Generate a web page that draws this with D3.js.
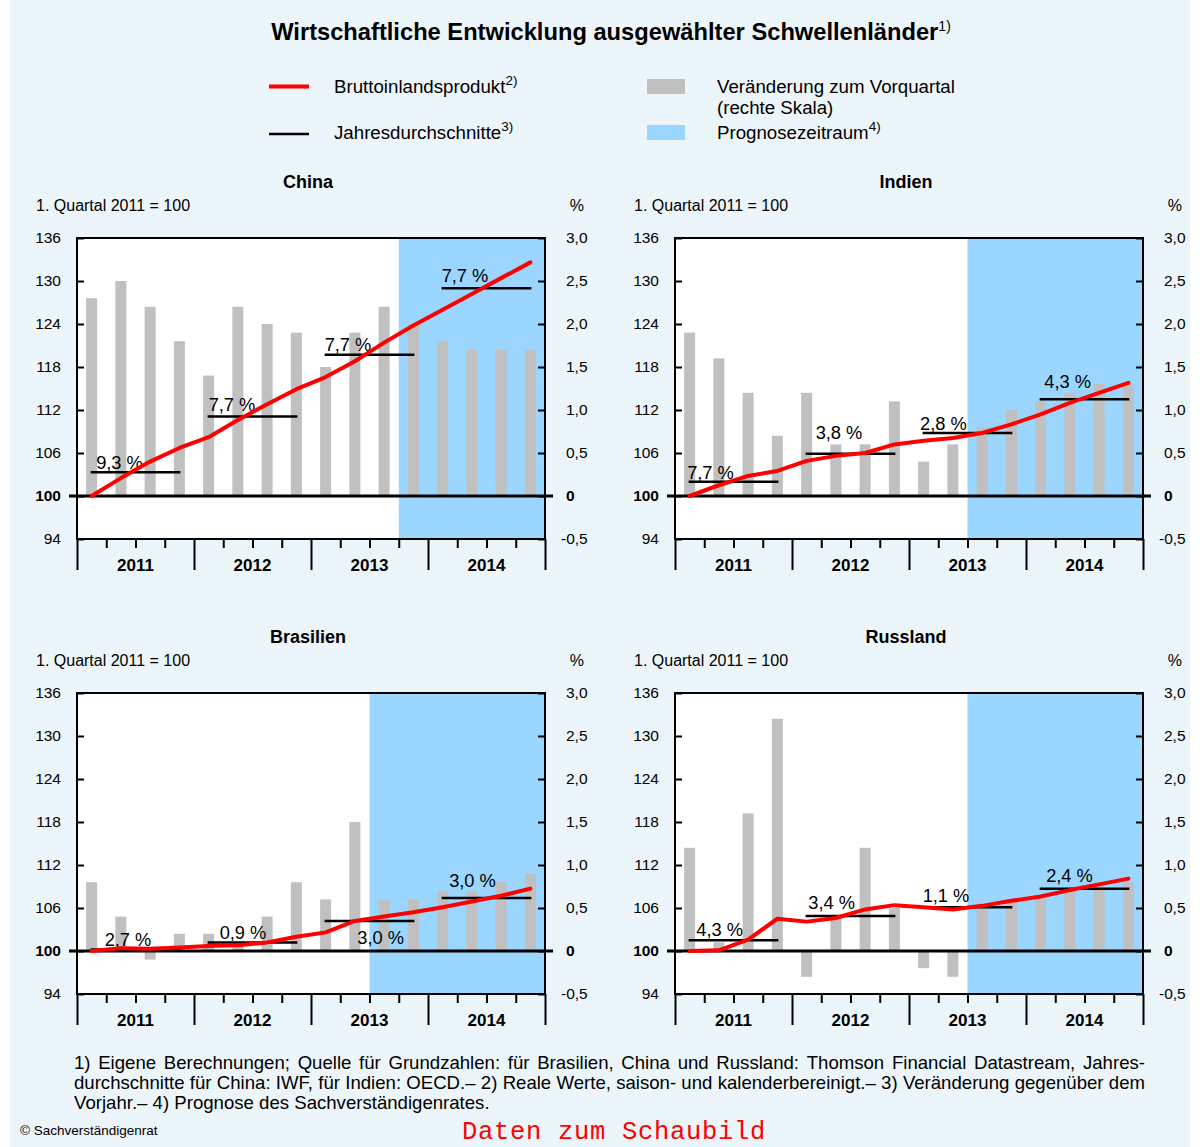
<!DOCTYPE html>
<html><head><meta charset="utf-8">
<script src="https://cdn.jsdelivr.net/npm/d3@7"></script>
<style>
body{margin:0;background:#fff}
svg{display:block}
text{font-family:"Liberation Sans",Arial,Helvetica,sans-serif;fill:#000}
</style>
</head><body>
<svg id="chart" width="1200" height="1147"></svg>
<script>
// ---------- data ----------
const years = ["2011","2012","2013","2014"];
const quarters = ["2011-1","2011-2","2011-3","2011-4","2012-1","2012-2","2012-3","2012-4",
                  "2013-1","2013-2","2013-3","2013-4","2014-1","2014-2","2014-3","2014-4"];
const indexTicks = [94,100,106,112,118,124,130,136];
const changeTicks = [-0.5,0,0.5,1.0,1.5,2.0,2.5,3.0];
const changeTickLabels = ["-0,5","0","0,5","1,0","1,5","2,0","2,5","3,0"];

const chinaIndex  = [100,102.5,104.8,106.7,108.2,110.6,112.8,114.9,116.6,118.8,121.4,123.8,126.0,128.2,130.4,132.6];
const chinaChange = [2.3,2.5,2.2,1.8,1.4,2.2,2.0,1.9,1.5,1.9,2.2,2.0,1.8,1.7,1.7,1.7];
const chinaAvg    = [103.3,111.1,119.7,129.0];
const chinaAvgLabels = ["9,3 %","7,7 %","7,7 %","7,7 %"];
const chinaForecastFrom = "2013-4";

const indienIndex  = [100,101.5,102.8,103.5,104.9,105.6,106.0,107.2,107.7,108.1,108.8,110.0,111.4,113.0,114.4,115.8];
const indienChange = [1.9,1.6,1.2,0.7,1.2,0.6,0.6,1.1,0.4,0.6,0.8,1.0,1.1,1.2,1.3,1.3];
const indienAvg    = [102.0,105.9,108.8,113.5];
const indienAvgLabels = ["7,7 %","3,8 %","2,8 %","4,3 %"];
const indienForecastFrom = "2013-3";

const brasilienIndex  = [100,100.4,100.3,100.5,100.7,100.8,101.2,102.0,102.6,104.2,104.8,105.4,106.1,106.9,107.7,108.7];
const brasilienChange = [0.8,0.4,-0.1,0.2,0.2,0.1,0.4,0.8,0.6,1.5,0.6,0.6,0.7,0.7,0.8,0.9];
const brasilienAvg    = [100.2,101.2,104.2,107.4];
const brasilienAvgLabels = ["2,7 %","0,9 %","3,0 %","3,0 %"];
const brasilienForecastFrom = "2013-3";

const russlandIndex  = [100,100.1,101.6,104.5,104.1,104.6,105.8,106.4,106.1,105.8,106.3,107.0,107.6,108.5,109.3,110.1];
const russlandChange = [1.2,0.1,1.6,2.7,-0.3,0.4,1.2,0.5,-0.2,-0.3,0.5,0.6,0.6,0.7,0.8,0.8];
const russlandAvg    = [101.5,104.9,106.1,108.7];
const russlandAvgLabels = ["4,3 %","3,4 %","1,1 %","2,4 %"];
const russlandForecastFrom = "2013-3";

// ---------- layout (positions only) ----------
const PW = 468, PH = 301;
const COLORS = {bg:"#ECF5F9", bar:"#C0C0C0", forecast:"#9AD6FF", red:"#FF0000"};
const panels = [
  {name:"China",     left:77,  top:238, index:chinaIndex, change:chinaChange, avg:chinaAvg, labels:chinaAvgLabels, fc:chinaForecastFrom,
   lab:[[5.5,-3.3],[1,-5.3],[0,-4.3],[0,-6.3]]},
  {name:"Indien",    left:675, top:238, index:indienIndex, change:indienChange, avg:indienAvg, labels:indienAvgLabels, fc:indienForecastFrom,
   lab:[[-1.5,-3],[10,-14.3],[-2.6,-3],[4.6,-11.3]]},
  {name:"Brasilien", left:77,  top:693, index:brasilienIndex, change:brasilienChange, avg:brasilienAvg, labels:brasilienAvgLabels, fc:brasilienForecastFrom,
   lab:[[14,-3.3],[12,-3.7],[32.6,22.6],[7.5,-10.7]]},
  {name:"Russland",  left:675, top:693, index:russlandIndex, change:russlandChange, avg:russlandAvg, labels:russlandAvgLabels, fc:russlandForecastFrom,
   lab:[[7.6,-4],[2.7,-7],[0,-5.3],[6.5,-6.3]]}
];

const svg = d3.select("#chart");
svg.append("rect").attr("x",10).attr("y",0).attr("width",1180).attr("height",1147).attr("fill",COLORS.bg);

// ---------- title ----------
const title = svg.append("text").attr("x",611).attr("y",40).attr("text-anchor","middle")
  .style("font-size","23.7px").style("font-weight","bold");
title.append("tspan").text("Wirtschaftliche Entwicklung ausgewählter Schwellenländer");
title.append("tspan").attr("dy",-9).style("font-size","14px").style("font-weight","normal").text("1)");

// ---------- legend ----------
const lg = svg.append("g");
lg.append("line").attr("x1",269).attr("x2",309).attr("y1",86.5).attr("y2",86.5).attr("stroke",COLORS.red).attr("stroke-width",4);
lg.append("line").attr("x1",269).attr("x2",309).attr("y1",134).attr("y2",134).attr("stroke","#000").attr("stroke-width",2.5);
lg.append("rect").attr("x",647).attr("y",79).attr("width",38).attr("height",15).attr("fill",COLORS.bar);
lg.append("rect").attr("x",647).attr("y",125).attr("width",38).attr("height",15).attr("fill",COLORS.forecast);
function legText(x,y,t,sup){
  const tx = lg.append("text").attr("x",x).attr("y",y).style("font-size","18.7px");
  tx.append("tspan").text(t);
  if(sup) tx.append("tspan").attr("dy",-8).style("font-size","13.5px").text(sup);
}
legText(334,93,"Bruttoinlandsprodukt","2)");
legText(334,139,"Jahresdurchschnitte","3)");
legText(717,93,"Veränderung zum Vorquartal");
legText(717,114,"(rechte Skala)");
legText(717,139,"Prognosezeitraum","4)");

// ---------- panels ----------
panels.forEach(p => {
  const L = p.left, T = p.top, R = L + PW, B = T + PH;
  const g = svg.append("g");
  const x = d3.scaleBand().domain(quarters).range([L,R]).paddingInner(0).paddingOuter(0);
  const bw = x.bandwidth();
  const yb = d3.scaleBand().domain(years).range([L,R]);
  const yL = d3.scaleLinear().domain([94,136]).range([B,T]);
  const yR = d3.scaleLinear().domain([-0.5,3.0]).range([B,T]);
  const barW = 11;

  // titles
  g.append("text").attr("x",(L+R)/2-3).attr("y",T-50).attr("text-anchor","middle")
    .style("font-size","18px").style("font-weight","bold").text(p.name);
  g.append("text").attr("x",L-41).attr("y",T-27).style("font-size","16px").text("1. Quartal 2011 = 100");
  g.append("text").attr("x",R+39).attr("y",T-27).attr("text-anchor","end").style("font-size","16px").text("%");

  // plot background + forecast
  g.append("rect").attr("x",L).attr("y",T).attr("width",PW).attr("height",PH).attr("fill","#fff");
  g.append("rect").attr("x",x(p.fc)).attr("y",T).attr("width",R-x(p.fc)).attr("height",PH).attr("fill",COLORS.forecast);

  // bars (right scale)
  g.append("g").selectAll("rect").data(p.change).join("rect")
    .attr("x",(d,i)=>x(quarters[i])+bw/2-barW/2)
    .attr("y",d=>yR(Math.max(0,d)))
    .attr("width",barW)
    .attr("height",d=>Math.abs(yR(d)-yR(0)))
    .attr("fill",COLORS.bar);

  // zero line
  g.append("line").attr("x1",L-8).attr("x2",R+8).attr("y1",yL(100)).attr("y2",yL(100))
    .attr("stroke","#000").attr("stroke-width",3);

  // yearly averages
  g.append("g").selectAll("line").data(p.avg).join("line")
    .attr("x1",(d,i)=>yb(years[i])+bw/2-1)
    .attr("x2",(d,i)=>yb(years[i])+yb.bandwidth()-bw/2+1)
    .attr("y1",d=>yL(d)).attr("y2",d=>yL(d))
    .attr("stroke","#000").attr("stroke-width",2.5);
  g.append("g").selectAll("text").data(p.avg).join("text")
    .attr("x",(d,i)=>yb(years[i])+bw/2-1+p.lab[i][0])
    .attr("y",(d,i)=>yL(d)+p.lab[i][1])
    .style("font-size","18.3px")
    .text((d,i)=>p.labels[i]);

  // GDP line
  const line = d3.line().x((d,i)=>x(quarters[i])+bw/2).y(d=>yL(d));
  g.append("path").datum(p.index).attr("d",line).attr("fill","none")
    .attr("stroke",COLORS.red).attr("stroke-width",4).attr("stroke-linejoin","round").attr("stroke-linecap","round");

  // border
  g.append("rect").attr("x",L).attr("y",T).attr("width",PW).attr("height",PH)
    .attr("fill","none").attr("stroke","#000").attr("stroke-width",2);

  // left axis
  const ax = g.append("g").attr("transform",`translate(${L},0)`)
    .call(d3.axisLeft(yL).tickValues(indexTicks).tickSize(-7).tickPadding(16).tickFormat(d3.format("d")));
  ax.select(".domain").remove();
  ax.selectAll("line").attr("stroke","#000").attr("stroke-width",2);
  ax.selectAll("text").style("font-size","15.5px").attr("font-family",null)
    .style("font-weight",d=>d===100?"bold":"normal");

  // right axis
  const ar = g.append("g").attr("transform",`translate(${R},0)`)
    .call(d3.axisRight(yR).tickValues(changeTicks).tickSize(-7).tickPadding(21)
      .tickFormat((d,i)=>changeTickLabels[i]));
  ar.select(".domain").remove();
  ar.selectAll("line").attr("stroke","#000").attr("stroke-width",2);
  ar.selectAll("text").style("font-size","15.5px").attr("font-family",null)
    .style("font-weight",d=>d===0?"bold":"normal")
    .attr("x",d=>d<0?16:21);

  // bottom axis: quarter and year ticks
  const xq = d3.scaleLinear().domain([0,quarters.length]).range([L,R]);
  const minor = d3.range(0,quarters.length+1).filter(i=>i%4!==0);
  const major = d3.range(0,quarters.length+1,4);
  const bm = g.append("g").attr("transform",`translate(0,${B})`)
    .call(d3.axisBottom(xq).tickValues(minor).tickSize(9).tickFormat(""));
  bm.select(".domain").remove();
  bm.selectAll("line").attr("stroke","#000").attr("stroke-width",2);
  const bM = g.append("g").attr("transform",`translate(0,${B})`)
    .call(d3.axisBottom(xq).tickValues(major).tickSize(31).tickFormat(""));
  bM.select(".domain").remove();
  bM.selectAll("line").attr("stroke","#000").attr("stroke-width",2);
  const by = g.append("g").attr("transform",`translate(0,${B})`)
    .call(d3.axisBottom(yb).tickSize(0).tickPadding(20));
  by.select(".domain").remove();
  by.selectAll("text").style("font-size","17px").style("font-weight","bold").attr("font-family",null);
});

// ---------- footnotes ----------
const foot = [
  "1) Eigene Berechnungen; Quelle für Grundzahlen: für Brasilien, China und Russland: Thomson Financial Datastream, Jahres-",
  "durchschnitte für China: IWF, für Indien: OECD.– 2) Reale Werte, saison- und kalenderbereinigt.– 3) Veränderung gegenüber dem",
  "Vorjahr.– 4) Prognose des Sachverständigenrates."
];
const FS = "18.6px";
const fx0 = 74, fx1 = 1145, fy = [1069,1089,1109];
foot.forEach((ln,li) => {
  const words = ln.split(" ");
  const tmp = svg.append("g");
  const widths = words.map(w => { const t = tmp.append("text").style("font-size",FS).text(w); return t.node().getComputedTextLength(); });
  const sp = tmp.append("text").style("font-size",FS).text("a a").node().getComputedTextLength()
           - 2*tmp.append("text").style("font-size",FS).text("a").node().getComputedTextLength();
  tmp.remove();
  const total = d3.sum(widths);
  const gap = li < 2 ? (fx1 - fx0 - total)/(words.length-1) : sp;
  let cx = fx0;
  words.forEach((w,i) => {
    svg.append("text").attr("x",cx).attr("y",fy[li]).style("font-size",FS).text(w);
    cx += widths[i] + gap;
  });
});

svg.append("text").attr("x",20).attr("y",1135).style("font-size","13.5px").text("© Sachverständigenrat");
svg.append("text").attr("x",462).attr("y",1139).style("font-family","'Liberation Mono','Courier New',monospace")
  .style("font-size","25.5px").style("letter-spacing","0.7px").style("fill","#FF0000").text("Daten zum Schaubild");
</script>
</body></html>
